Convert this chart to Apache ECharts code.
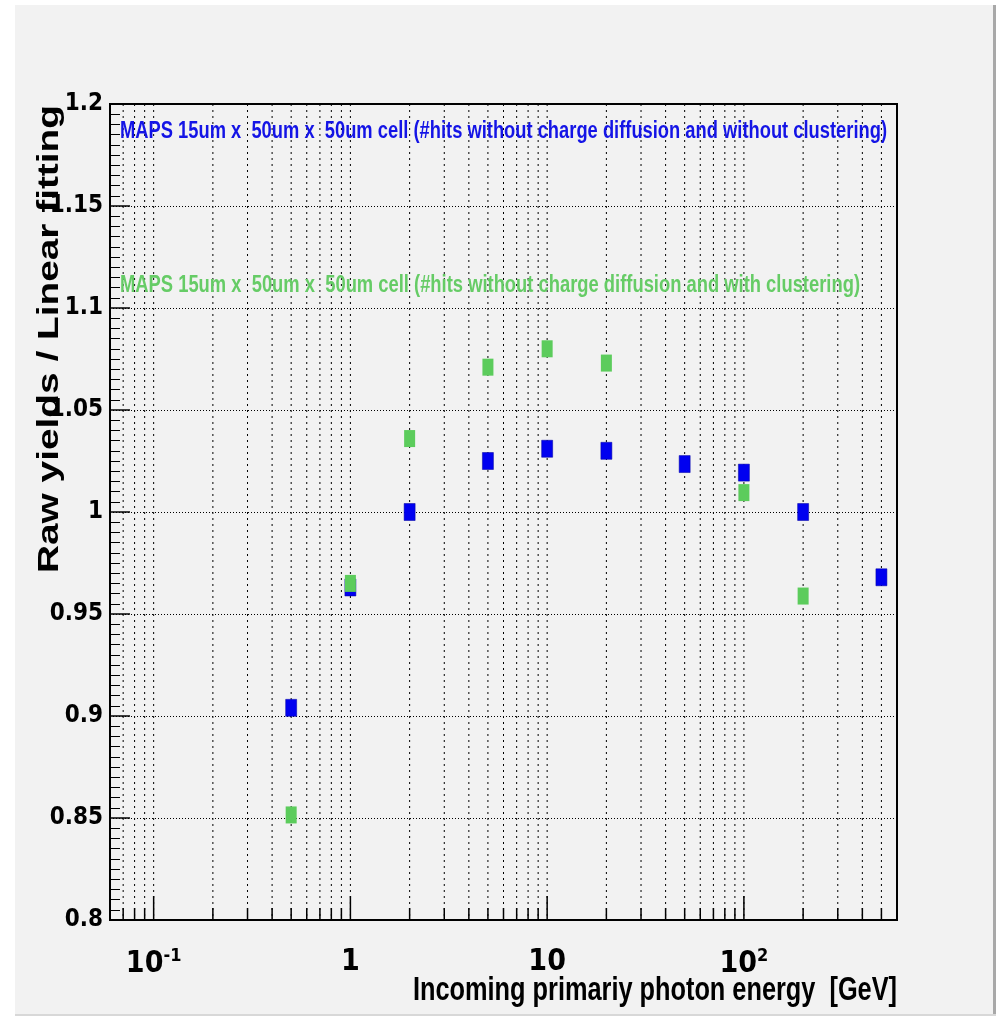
<!DOCTYPE html>
<html>
<head>
<meta charset="utf-8">
<script src="https://cdn.jsdelivr.net/npm/echarts@6/dist/echarts.min.js"></script>
<style>
html,body{margin:0;padding:0;background:#fff;}
#chart{width:1002px;height:1019px;}
</style>
</head>
<body>
<div id="chart"></div>
<script>
// ---- data ----
const energyBlue = [0.5, 1, 2, 5, 10, 20, 50, 100, 200, 500];
const ratioBlue  = [0.904, 0.963, 1.000, 1.025, 1.031, 1.030, 1.0235, 1.0193, 1.000, 0.968];
const energyGreen = [0.5, 1, 2, 5, 10, 20, 100, 200];
const ratioGreen  = [0.8515, 0.965, 1.036, 1.071, 1.080, 1.073, 1.0095, 0.9588];

const xMin = 0.06, xMax = 600;
const yMin = 0.8, yMax = 1.2, yStep = 0.05;
const xMajorTicks = [0.1, 1, 10, 100];
const xMinorTicks = [0.07, 0.08, 0.09, 0.2, 0.3, 0.4, 0.5, 0.6, 0.7, 0.8, 0.9,
                     2, 3, 4, 5, 6, 7, 8, 9, 20, 30, 40, 50, 60, 70, 80, 90,
                     200, 300, 400, 500];

const labelBlue  = 'MAPS 15um x  50um x  50um cell (#hits without charge diffusion and without clustering)';
const labelGreen = 'MAPS 15um x  50um x  50um cell (#hits without charge diffusion and with clustering)';
const yTitle = 'Raw yields / Linear fitting';
const xTitle = 'Incoming primariy photon energy  [GeV]';

// ---- helpers ----
const mctx = document.createElement('canvas').getContext('2d');
function fit(text, font, target) {
  mctx.font = font;
  return target / mctx.measureText(text).width;
}
const SANS = '"Liberation Sans", Arial, Helvetica, sans-serif';
const NARROW = '"Liberation Sans Narrow", "DejaVu Sans Condensed", "Liberation Sans", sans-serif';

const fontAnn = 'bold 23px ' + SANS;
const fontY = 'bold 29px ' + SANS;
const fontX = 'bold 33px ' + SANS;

const tickData = xMajorTicks.map(v => [v, yMin, 1]).concat(xMinorTicks.map(v => [v, yMin, 0]));

const chart = echarts.init(document.getElementById('chart'), null, {renderer: 'canvas'});
chart.setOption({
  animation: false,
  backgroundColor: '#f2f2f2',
  grid: {
    left: 110, right: 105, top: 104, bottom: 99,
    show: true, borderColor: '#000', borderWidth: 2, backgroundColor: 'transparent'
  },
  xAxis: {
    type: 'log', logBase: 10, min: xMin, max: xMax,
    axisLine: {show: false},
    axisTick: {show: false},
    splitLine: {show: false},
    minorTick: {show: false},
    axisLabel: {
      showMinLabel: false, showMaxLabel: false,
      margin: 27,
      formatter: function (v) {
        const e = Math.round(Math.log10(v));
        const p = Math.pow(10, e);
        if (Math.abs(v - p) > 1e-6 * p) return '';
        if (e === 0) return '{b|1}';
        if (e === 1) return '{b|10}';
        return '{b|10}{s|' + e + '}';
      },
      rich: {
        b: {fontSize: 30, fontWeight: 'bold', fontFamily: NARROW, color: '#000', verticalAlign: 'bottom'},
        s: {fontSize: 18, fontWeight: 'bold', fontFamily: NARROW, color: '#000', verticalAlign: 'top', padding: [0, 0, 14, 0]}
      }
    }
  },
  yAxis: {
    type: 'value', min: yMin, max: yMax, interval: yStep,
    axisLine: {show: false},
    axisTick: {show: true, inside: true, length: 20, lineStyle: {color: '#000', width: 1.5}},
    minorTick: {show: true, splitNumber: 10, length: 10, lineStyle: {color: '#000', width: 1}},
    splitLine: {show: true, lineStyle: {color: '#000', width: 1, type: [1, 2]}},
    axisLabel: {
      margin: 7,
      color: '#000', fontSize: 24, fontWeight: 'bold', fontFamily: NARROW,
      padding: [8, 0, 0, 0],
      formatter: v => String(+v.toFixed(3))
    }
  },
  series: [
    {
      type: 'custom', z: 1, silent: true, clip: false,
      data: tickData,
      encode: {x: 0, y: 1},
      renderItem: function (params, api) {
        const cs = params.coordSys;
        const x = api.coord([api.value(0), yMin])[0];
        const top = cs.y, bottom = cs.y + cs.height;
        const len = api.value(2) ? 24 : 12;
        return {
          type: 'group',
          children: [
            {type: 'line', shape: {x1: x, y1: top, x2: x, y2: bottom},
             style: {stroke: '#000', lineWidth: 1, lineDash: [2, 4]}},
            {type: 'line', shape: {x1: x, y1: bottom, x2: x, y2: bottom - len},
             style: {stroke: '#000', lineWidth: 1.5}}
          ]
        };
      }
    },
    {
      type: 'scatter', z: 3, name: 'without clustering',
      data: energyBlue.map((e, i) => [e, ratioBlue[i]]),
      symbol: 'rect', symbolSize: [11, 17],
      itemStyle: {color: '#0000f0', borderColor: '#0000a0', borderWidth: 0.5, opacity: 1}
    },
    {
      type: 'scatter', z: 4, name: 'with clustering',
      data: energyGreen.map((e, i) => [e, ratioGreen[i]]),
      symbol: 'rect', symbolSize: [11, 17],
      itemStyle: {color: '#5ccc5c', opacity: 1}
    }
  ],
  graphic: [
    // page frame
    {type: 'rect', shape: {x: 0, y: 0, width: 15, height: 1019}, style: {fill: '#fff'}, silent: true},
    {type: 'rect', shape: {x: 0, y: 0, width: 1002, height: 5}, style: {fill: '#fff'}, silent: true},
    {type: 'rect', shape: {x: 996, y: 0, width: 6, height: 1019}, style: {fill: '#fff'}, silent: true},
    {type: 'rect', shape: {x: 0, y: 1016, width: 1002, height: 3}, style: {fill: '#fff'}, silent: true},
    {type: 'rect', shape: {x: 993, y: 5, width: 3, height: 1011}, style: {fill: '#a8a8a8'}, silent: true},
    {type: 'rect', shape: {x: 15, y: 1014, width: 981, height: 2}, style: {fill: '#d8d8d8'}, silent: true},
    // annotations
    {type: 'text', x: 120, y: 132, z: 10, scaleX: fit(labelBlue, fontAnn, 767),
     style: {text: labelBlue, font: fontAnn, fill: '#1414e6', textAlign: 'left', textVerticalAlign: 'middle'}},
    {type: 'text', x: 120, y: 286, z: 10, scaleX: fit(labelGreen, fontAnn, 740),
     style: {text: labelGreen, font: fontAnn, fill: '#66cc66', textAlign: 'left', textVerticalAlign: 'middle'}},
    // axis titles
    {type: 'text', x: 50, y: 339, rotation: Math.PI / 2, scaleX: fit(yTitle, fontY, 468),
     style: {text: yTitle, font: fontY, fill: '#000', textAlign: 'center', textVerticalAlign: 'middle'}},
    {type: 'text', x: 897, y: 991, scaleX: fit(xTitle, fontX, 484),
     style: {text: xTitle, font: fontX, fill: '#000', textAlign: 'right', textVerticalAlign: 'middle'}}
  ]
});
</script>
</body>
</html>
